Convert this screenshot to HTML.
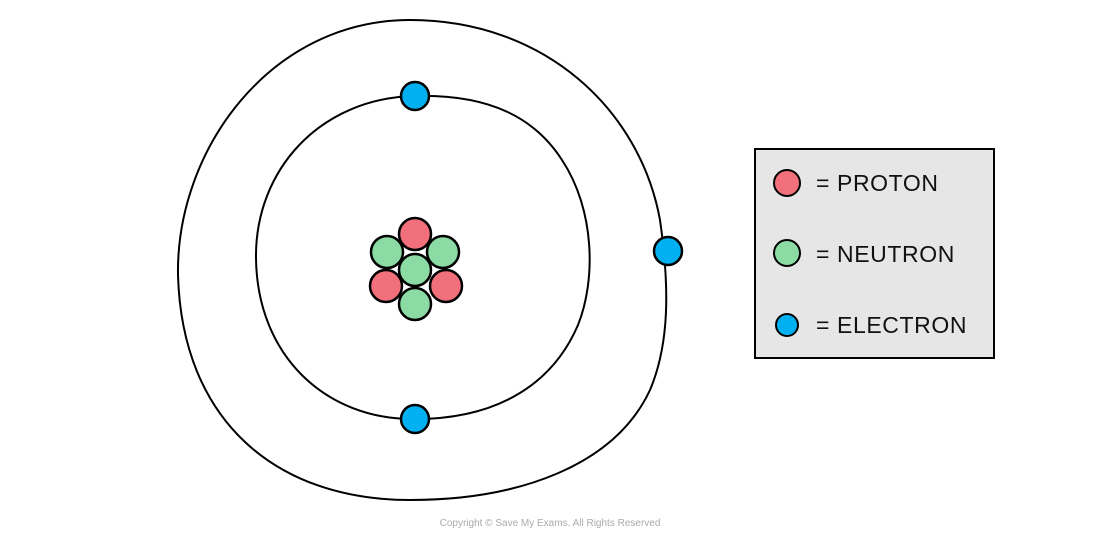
<!DOCTYPE html>
<html><head><style>body{margin:0;background:#fff}svg{display:block}</style></head>
<body>
<svg width="1100" height="541" viewBox="0 0 1100 541" xmlns="http://www.w3.org/2000/svg">
<g fill="none" stroke="#000" stroke-width="2">
<path d="M415,96 C490,94 535,118 562,160 C595,210 596,280 578,325 C550,390 490,419 415,419 C325,420 257,355 256,258 C255,170 320,98 415,96 Z"/>
<path d="M410,20 C545,20 640,110 660,220 C670,290 669,345 650,390 C615,465 520,500 410,500 C275,500 182,420 178,275 C176,150 270,20 410,20 Z"/>
</g>
<g stroke="#000" stroke-width="2.5">
<circle cx="415" cy="234" r="16" fill="#f2707b"/>
<circle cx="387" cy="252" r="16" fill="#8cdba4"/>
<circle cx="443" cy="252" r="16" fill="#8cdba4"/>
<circle cx="386" cy="286" r="16" fill="#f2707b"/>
<circle cx="446" cy="286" r="16" fill="#f2707b"/>
<circle cx="415" cy="270" r="16" fill="#8cdba4"/>
<circle cx="415" cy="304" r="16" fill="#8cdba4"/>
<circle cx="415" cy="96" r="14" fill="#00b0f0"/>
<circle cx="415" cy="419" r="14" fill="#00b0f0"/>
<circle cx="668" cy="251" r="14" fill="#00b0f0"/>
</g>
<rect x="755" y="149" width="239" height="209" fill="#e6e6e6" stroke="#000" stroke-width="2"/>
<g stroke="#000" stroke-width="2">
<circle cx="787" cy="183" r="13" fill="#f2707b"/>
<circle cx="787" cy="253" r="13" fill="#8cdba4"/>
<circle cx="787" cy="325" r="11" fill="#00b0f0"/>
</g>
<g font-family="Liberation Sans, sans-serif" font-size="23" fill="#111" letter-spacing="0.6">
<text x="816" y="191">= PROTON</text>
<text x="816" y="262">= NEUTRON</text>
<text x="816" y="333">= ELECTRON</text>
</g>
<text x="550" y="526" text-anchor="middle" font-family="Liberation Sans, sans-serif" font-size="10" fill="#aaa">Copyright © Save My Exams. All Rights Reserved</text>
</svg>
</body></html>
